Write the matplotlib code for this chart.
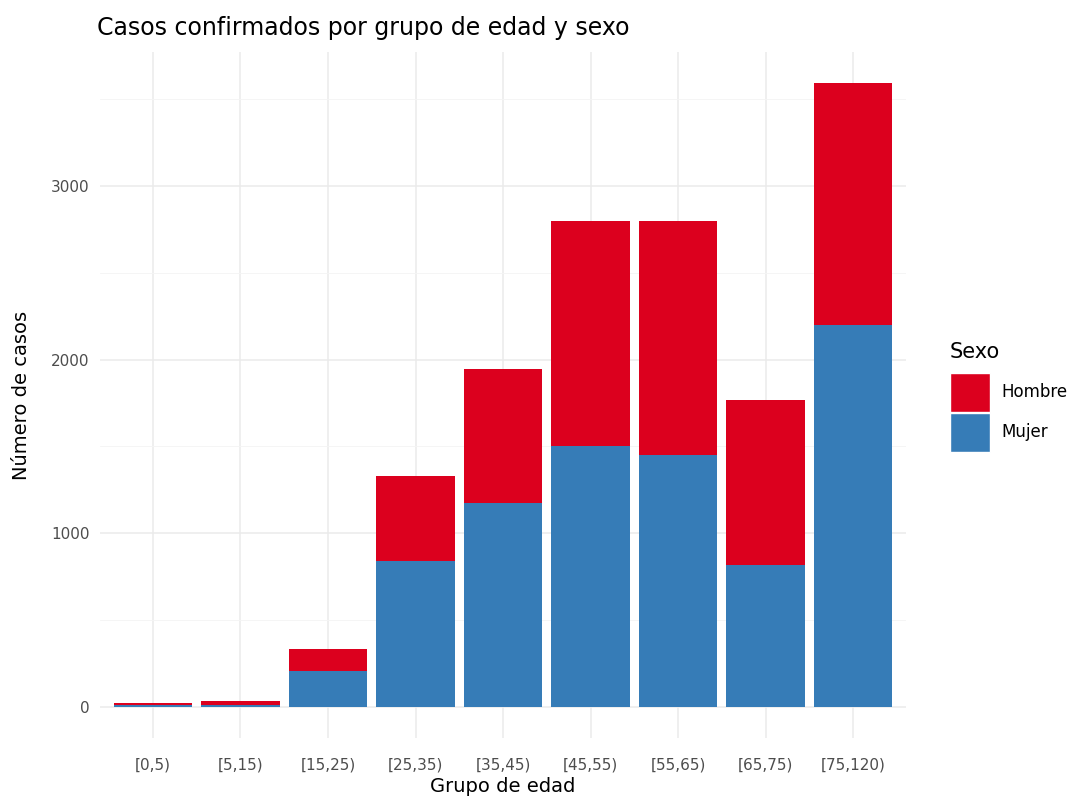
import numpy as np
import matplotlib.pyplot as plt
from matplotlib.patches import Patch

# Datos
grupos = ['[0,5)', '[5,15)', '[15,25)', '[25,35)', '[35,45)', '[45,55)',
          '[55,65)', '[65,75)', '[75,120)']
mujer = [10, 12, 207, 840, 1174, 1503, 1451, 817, 2199]
hombre = [12, 22, 127, 490, 772, 1295, 1347, 950, 1393]

col_hombre = '#DC001E'
col_mujer = '#367CB7'

fig = plt.figure(figsize=(10.77, 8.01), dpi=100)
ax = fig.add_axes([0.0933, 0.0787, 0.7475, 0.8563])

x = np.arange(1, len(grupos) + 1)
ax.bar(x, mujer, width=0.9, color=col_mujer, zorder=3)
ax.bar(x, hombre, width=0.9, bottom=mujer, color=col_hombre, zorder=3)

total_max = max(m + h for m, h in zip(mujer, hombre))
ax.set_ylim(-0.05 * total_max, 1.05 * total_max)
ax.set_xlim(0.4, len(grupos) + 0.6)

ax.set_yticks([0, 1000, 2000, 3000])
ax.set_yticks([500, 1500, 2500, 3500], minor=True)
ax.set_xticks(x)
ax.set_xticklabels(grupos)
ax.grid(which='major', color='#EBEBEB', linewidth=1.1, zorder=0)
ax.grid(which='minor', axis='y', color='#F4F4F4', linewidth=0.6, zorder=0)
for s in ax.spines.values():
    s.set_visible(False)
ax.tick_params(which='both', length=0, labelsize=11, labelcolor='#4D4D4D')
ax.tick_params(axis='x', pad=14)
ax.tick_params(axis='y', pad=8)

ax.set_xlabel('Grupo de edad', fontsize=14, labelpad=3)
ax.set_ylabel('Número de casos', fontsize=14, labelpad=14)
fig.text(0.09, 0.965, 'Casos confirmados por grupo de edad y sexo',
         fontsize=17, ha='left', va='center')

handles = [Patch(facecolor=col_hombre, edgecolor='white', label='Hombre'),
           Patch(facecolor=col_mujer, edgecolor='white', label='Mujer')]
leg = fig.legend(handles=handles, title='Sexo', loc='center left',
                 bbox_to_anchor=(0.876, 0.5045), frameon=False, fontsize=12,
                 title_fontsize=15, handlelength=2.4, handleheight=3.2,
                 handletextpad=0.7, labelspacing=0.1, borderaxespad=0)
leg._legend_box.align = 'left'
leg._legend_box.sep = 8

fig.savefig('out.png', dpi=100)
